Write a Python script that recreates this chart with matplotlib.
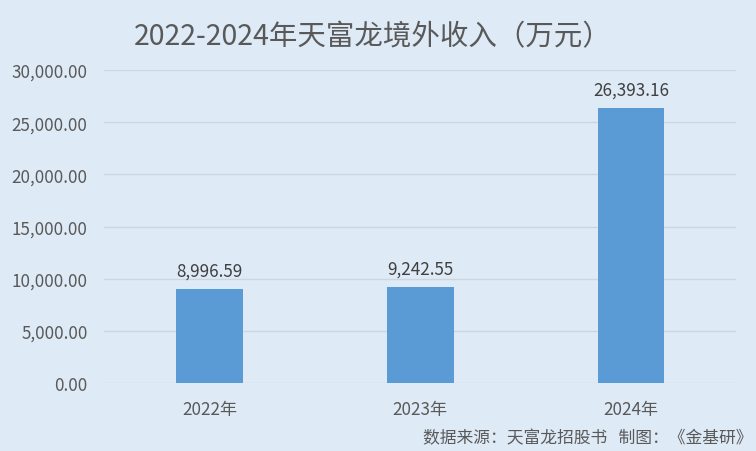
import matplotlib
matplotlib.use('Agg')
import matplotlib.pyplot as plt
from matplotlib.ticker import FuncFormatter

plt.rcParams['font.family'] = ['Noto Sans CJK SC', 'DejaVu Sans']

years = ['2022年', '2023年', '2024年']
income = [8996.59, 9242.55, 26393.16]
yticks = [0, 5000, 10000, 15000, 20000, 25000, 30000]

bg = '#DEEAF6'
text_col = '#595959'

fig = plt.figure(figsize=(7.56, 4.52), dpi=100, facecolor=bg)
ax = fig.add_axes([0.138, 0.150, 0.836, 0.693], facecolor=bg)

x = range(len(years))
bars = ax.bar(x, income, width=0.315, color='#5B9BD5', zorder=3)

for xi, v in zip(x, income):
    ax.text(xi, v + 900, f'{v:,.2f}', ha='center', va='bottom',
            fontsize=12.3, color='#404040')

ax.set_xlim(-0.5, 2.5)
ax.set_ylim(0, 30000)
ax.set_yticks(yticks)
ax.yaxis.set_major_formatter(FuncFormatter(lambda v, p: f'{v:,.2f}'))
ax.set_xticks(list(x))
ax.set_xticklabels(years)
ax.tick_params(axis='both', length=0, labelsize=12.3, labelcolor=text_col)
ax.tick_params(axis='x', pad=12)
ax.tick_params(axis='y', pad=12)
ax.grid(axis='y', color='#CCD6E0', linewidth=1, zorder=0)
for s in ax.spines.values():
    s.set_visible(False)

fig.text(0.493, 0.918, '2022-2024年天富龙境外收入（万元）', ha='center', va='center',
         fontsize=20.5, color=text_col)
fig.text(0.995, 0.03, '数据来源：天富龙招股书   制图：《金基研》', ha='right', va='center',
         fontsize=12.1, color=text_col)

fig.savefig('out.png', dpi=100, facecolor=bg)
